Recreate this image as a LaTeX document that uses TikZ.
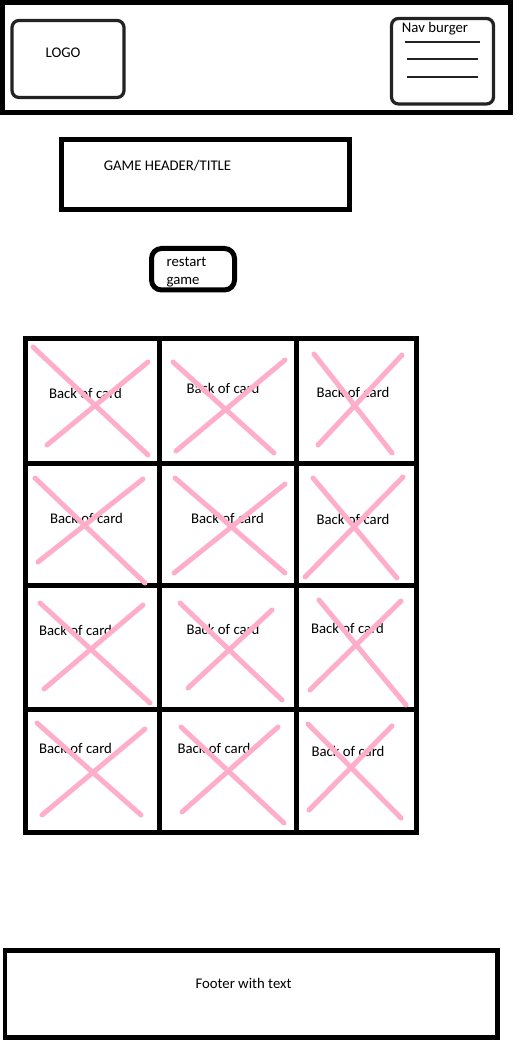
\documentclass[tikz,border=0pt]{standalone}
\usepackage{fontspec}
\setmainfont{Carlito}
\usepackage{tikz}
\usetikzlibrary{positioning}
\definecolor{inkblack}{RGB}{0,0,0}
\definecolor{sketchgray}{RGB}{35,35,35}
\definecolor{crosspink}{RGB}{255,174,201}
\newcommand{\pxl}{0.02cm}
\newcommand{\wirefont}{\fontsize{8.4}{10.2}\selectfont}
\tikzset{
  boxframe/.style  = {rectangle, draw=inkblack, line width=0.1cm, inner sep=0pt},
  sketchbox/.style = {rectangle, draw=sketchgray, line width=0.065cm,
                      rounded corners=4pt, inner sep=0pt},
  pillbox/.style   = {rectangle, draw=inkblack, line width=0.1cm,
                      rounded corners=0.2cm, inner sep=0pt},
  card/.style      = {rectangle, draw=inkblack, line width=0.1cm, inner sep=0pt},
  wiretext/.style  = {font=\wirefont, inner sep=0pt},
  cardcross/.style = {draw=crosspink, line width=0.1cm, line cap=round},
  burger/.style    = {draw=sketchgray, line width=0.05cm},
}

\begin{document}
\begin{tikzpicture}[x=\pxl, y=-\pxl]
  \useasboundingbox (0,0) rectangle (526,1050);

  %─── Top bar ───────────────────────────────────────────────────────────────
  \node[boxframe, minimum width=508*\pxl, minimum height=110*\pxl] at (256.5,57.5) (navbar) {};
  \node[sketchbox, minimum width=112*\pxl, minimum height=77*\pxl] at (68,59)   (logo) {};
  \node[wiretext] at (63,53) (logotext) {LOGO};
  \node[sketchbox, minimum width=102*\pxl, minimum height=85.5*\pxl] at (442.5,61.25) (burgerbox) {};
  \node[wiretext] at (435,29) (burgertext) {Nav burger};
  \draw[burger] (405,42) -- (480,42);
  \draw[burger] (407,59) -- (478,59);
  \draw[burger] (407,77) -- (478,77);

  %─── Title and restart ─────────────────────────────────────────────────────
  \node[boxframe, minimum width=287.5*\pxl, minimum height=70*\pxl] at (205.25,175) (title) {};
  \node[wiretext] at (167.5,166) (titletext) {GAME HEADER/TITLE};
  \node[pillbox, minimum width=83*\pxl, minimum height=41.5*\pxl] at (193,269.25) (restart) {};
  \node[wiretext, align=left] at (186.5,272) (restarttext) {restart\\game};

  %─── Card grid (4 rows x 3 columns) ────────────────────────────────────────
  \node[card, minimum width=134*\pxl, minimum height=125*\pxl]   at (92.5,401)    (card11) {};
  \node[card, minimum width=137*\pxl, minimum height=125*\pxl]   at (228,401)     (card12) {};
  \node[card, minimum width=120*\pxl, minimum height=125*\pxl]   at (356.5,401)   (card13) {};
  \node[card, minimum width=134*\pxl, minimum height=122*\pxl]   at (92.5,524.5)  (card21) {};
  \node[card, minimum width=137*\pxl, minimum height=122*\pxl]   at (228,524.5)   (card22) {};
  \node[card, minimum width=120*\pxl, minimum height=122*\pxl]   at (356.5,524.5) (card23) {};
  \node[card, minimum width=134*\pxl, minimum height=124*\pxl]   at (92.5,647.5)  (card31) {};
  \node[card, minimum width=137*\pxl, minimum height=124*\pxl]   at (228,647.5)   (card32) {};
  \node[card, minimum width=120*\pxl, minimum height=124*\pxl]   at (356.5,647.5) (card33) {};
  \node[card, minimum width=134*\pxl, minimum height=122.5*\pxl] at (92.5,770.75) (card41) {};
  \node[card, minimum width=137*\pxl, minimum height=122.5*\pxl] at (228,770.75)  (card42) {};
  \node[card, minimum width=120*\pxl, minimum height=122.5*\pxl] at (356.5,770.75) (card43) {};

  % card texts
  \node[wiretext] at (85.5,393)  (back11) {Back of card};
  \node[wiretext] at (223,388)   (back12) {Back of card};
  \node[wiretext] at (353,392)   (back13) {Back of card};
  \node[wiretext] at (86.5,518)  (back21) {Back of card};
  \node[wiretext] at (227.5,518) (back22) {Back of card};
  \node[wiretext] at (353,519)   (back23) {Back of card};
  \node[wiretext] at (75.5,630)  (back31) {Back of card};
  \node[wiretext] at (223,629)   (back32) {Back of card};
  \node[wiretext] at (347.5,628) (back33) {Back of card};
  \node[wiretext] at (75.5,748)  (back41) {Back of card};
  \node[wiretext] at (214,748)   (back42) {Back of card};
  \node[wiretext] at (348,751)   (back43) {Back of card};

  % pink crosses over the cards
  \draw[cardcross] (33,347) -- (148,455)  (47,445) -- (148,362);
  \draw[cardcross] (173,362) -- (274,453) (176,451) -- (285,360);
  \draw[cardcross] (314,354) -- (392,453) (318,445) -- (402,355);
  \draw[cardcross] (35,478) -- (145,583)  (38,562) -- (143,479);
  \draw[cardcross] (175,478) -- (285,573) (174,573) -- (285,484);
  \draw[cardcross] (313,478) -- (397,578) (305,577) -- (403,477);
  \draw[cardcross] (40,603) -- (150,703)  (44,689) -- (143,605);
  \draw[cardcross] (180,603) -- (282,700) (188,688) -- (272,610);
  \draw[cardcross] (319,600) -- (406,705) (310,690) -- (401,601);
  \draw[cardcross] (37,723) -- (141,815)  (42,815) -- (145,729);
  \draw[cardcross] (181,727) -- (284,823) (182,812) -- (278,727);
  \draw[cardcross] (308,724) -- (401,818) (309,810) -- (392,726);

  %─── Footer ────────────────────────────────────────────────────────────────
  \node[boxframe, minimum width=492.5*\pxl, minimum height=87*\pxl] at (251.25,994) (footer) {};
  \node[wiretext] at (243.5,983) (footertext) {Footer with text};

\end{tikzpicture}
\end{document}
